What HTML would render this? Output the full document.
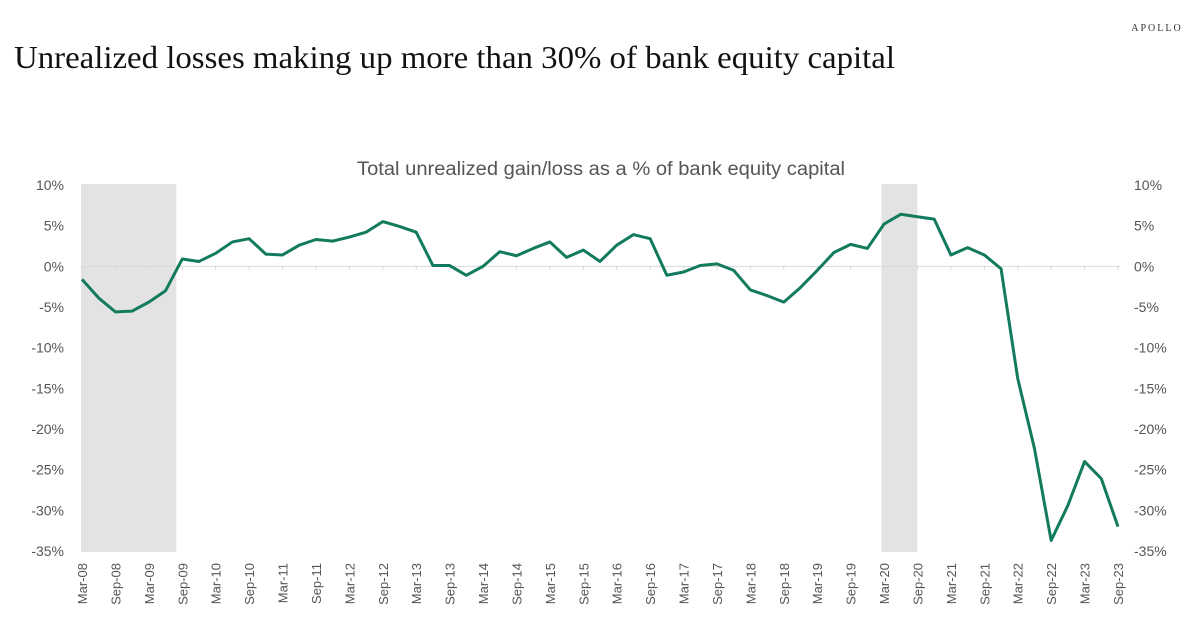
<!DOCTYPE html>
<html><head><meta charset="utf-8"><style>
body{margin:0;background:#fff;width:1200px;height:630px;overflow:hidden}
svg text{font-family:"Liberation Sans",sans-serif}
</style></head><body>
<svg width="1200" height="630" xmlns="http://www.w3.org/2000/svg">
<text x="1157" y="31" text-anchor="middle" font-size="10" letter-spacing="2" fill="#333" style="font-family:'Liberation Serif',serif">APOLLO</text>
<text x="14" y="68" font-size="32" textLength="881" lengthAdjust="spacingAndGlyphs" fill="#111" style="font-family:'Liberation Serif',serif">Unrealized losses making up more than 30% of  bank equity capital</text>
<text x="601" y="175" text-anchor="middle" font-size="19" textLength="488" lengthAdjust="spacingAndGlyphs" fill="#555">Total unrealized gain/loss as a % of bank equity capital</text>
<g id="shades"></g><g id="grid"></g><g id="yl"></g><g id="yr"></g><g id="xl"></g><g id="series"></g>
</svg>
<script>
const categories=[];
const months=["Mar","Jun","Sep","Dec"];
for(let y=8;y<=23;y++)for(const m of months){if(y===23&&m==="Dec")break;categories.push(m+"-"+String(y).padStart(2,"0"));}
const values=[-1.6,-3.9,-5.6,-5.5,-4.4,-3.0,0.9,0.6,1.6,3.0,3.4,1.5,1.4,2.6,3.3,3.1,3.6,4.2,5.5,4.9,4.2,0.1,0.1,-1.1,0.0,1.8,1.3,2.2,3.0,1.1,2.0,0.6,2.6,3.9,3.4,-1.1,-0.7,0.1,0.3,-0.5,-2.9,-3.6,-4.4,-2.6,-0.5,1.7,2.7,2.2,5.2,6.4,6.1,5.8,1.4,2.3,1.4,-0.3,-13.8,-22.4,-33.7,-29.4,-24.0,-26.1,-32.0];
const yTicks=[10,5,0,-5,-10,-15,-20,-25,-30,-35];
const recessionStart=[0,47.9];
const recessionEnd=[5.65,50.0];
const NS="http://www.w3.org/2000/svg";
const x0=82,x1=1118,yTop=185,yBot=551;
const xs=i=>x0+i*(x1-x0)/(categories.length-1);
const ys=v=>yTop+(10-v)*(yBot-yTop)/45;
function mk(tag,attrs,parent,txt){const e=document.createElementNS(NS,tag);for(const k in attrs)e.setAttribute(k,attrs[k]);if(txt!==undefined)e.textContent=txt;document.getElementById(parent).appendChild(e);return e;}
recessionStart.forEach((s,i)=>{const r=mk('rect',{x:xs(s)-1,y:yTop-1,width:xs(recessionEnd[i])-xs(s)+1,height:yBot-yTop+2,fill:'#e3e3e3'},'shades');

});
const z=mk('line',{x1:x0,x2:x1+2,y1:ys(0),y2:ys(0),stroke:'#d9d9d9','stroke-width':1},'grid');


categories.forEach((c,i)=>{if(i%2)return;const x=xs(i);
mk('line',{x1:x,x2:x,y1:ys(0),y2:ys(0)+4,stroke:'#d9d9d9'},'grid');
const t=mk('text',{x:0,y:0,transform:`translate(${x+5},${563}) rotate(-90)`,'text-anchor':'end','font-size':13,fill:'#555'},'xl',c);

});
yTicks.forEach(v=>{const l=v+'%';
const a=mk('text',{x:64,y:ys(v)+5,'text-anchor':'end','font-size':14,fill:'#555'},'yl',l);


const b=mk('text',{x:1134,y:ys(v)+5,'text-anchor':'start','font-size':14,fill:'#555'},'yr',l);

});
const p=mk('polyline',{points:values.map((v,i)=>xs(i)+','+ys(v)).join(' '),fill:'none',stroke:'#127a5d','stroke-width':3,'stroke-linejoin':'round'},'series');


</script>
</body></html>
